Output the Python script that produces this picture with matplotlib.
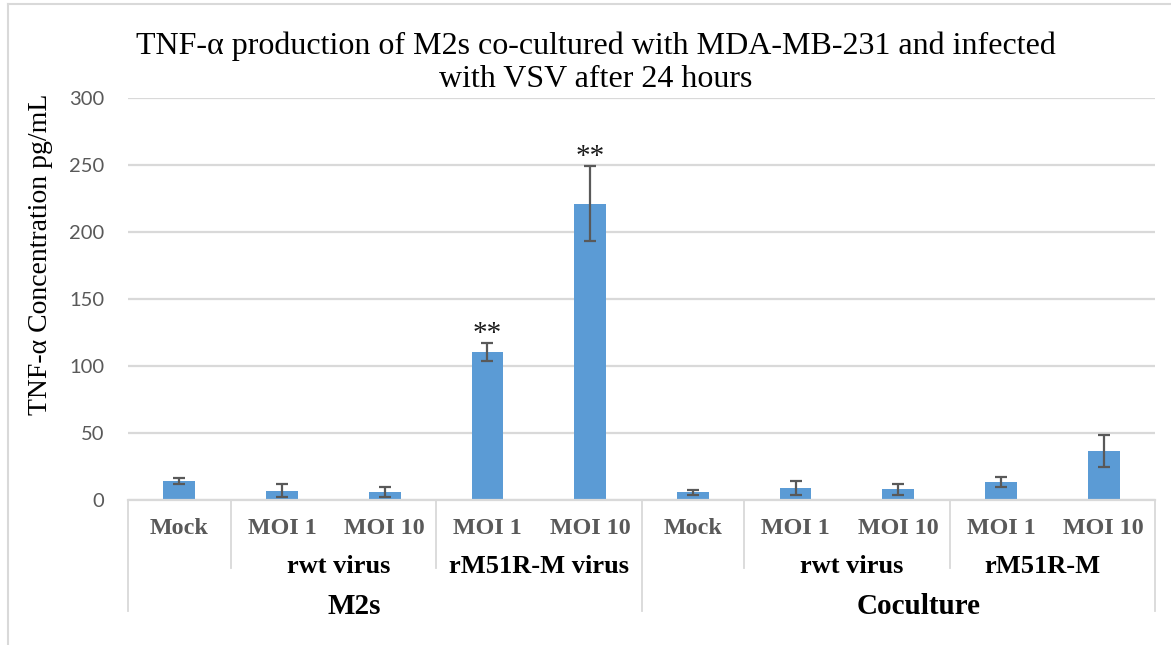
import matplotlib.pyplot as plt
from matplotlib.lines import Line2D
import numpy as np

# data
doses = ['Mock', 'MOI 1', 'MOI 10', 'MOI 1', 'MOI 10',
         'Mock', 'MOI 1', 'MOI 10', 'MOI 1', 'MOI 10']
tnf_mean = [14.2, 6.9, 6.0, 110.4, 221.0, 5.7, 9.0, 8.0, 13.2, 36.5]
tnf_err = [2.3, 4.7, 3.5, 6.9, 28.0, 2.0, 5.0, 4.3, 3.6, 12.0]
signif = ['', '', '', '**', '**', '', '', '', '', '']
virus_labels = ['rwt virus', 'rM51R-M virus', 'rwt virus', 'rM51R-M']
virus_pos = [1.55, 3.5, 6.55, 8.4]
group_labels = ['M2s', 'Coculture']
group_pos = [1.7, 7.2]

serif = 'Liberation Serif'
bar_color = '#5b9bd5'
grid_color = '#d9d9d9'
text_gray = '#595959'

fig = plt.figure(figsize=(11.71, 6.45), dpi=100)
ax = fig.add_axes([128 / 1171, 1 - 500 / 645, 1027 / 1171, 402 / 645])

x = np.arange(len(doses))
ax.bar(x, tnf_mean, width=0.31, color=bar_color, zorder=2)
ax.errorbar(x, tnf_mean, yerr=tnf_err, fmt='none', ecolor=text_gray,
            elinewidth=1.6, capsize=4.5, capthick=1.6, zorder=3)

# significance stars
for xi, m, e, s in zip(x, tnf_mean, tnf_err, signif):
    if s:
        ax.text(xi, m + e + 1.5, s, ha='center', va='baseline',
                fontsize=21, family=serif, color='#1a1a1a')

ax.set_xlim(-0.5, len(doses) - 0.5)
ax.set_ylim(0, 300)
ax.set_yticks(np.arange(0, 301, 50))
ax.yaxis.grid(True, color=grid_color, linewidth=1.6, zorder=0)
ax.set_axisbelow(True)
for side in ['top', 'right', 'left']:
    ax.spines[side].set_visible(False)
ax.spines['bottom'].set_color(grid_color)
ax.spines['bottom'].set_linewidth(1.6)
ax.tick_params(axis='y', length=0, pad=17, labelsize=14.5, labelcolor=text_gray)
for lbl in ax.get_yticklabels():
    lbl.set_family('Lato')
ax.set_xticks([])

ax.set_ylabel('TNF-\u03b1 Concentration pg/mL', family=serif, fontsize=20)
ax.yaxis.set_label_coords(-0.073, 0.61)

# multi-level category axis
tr = ax.get_xaxis_transform()
for xi, d in zip(x, doses):
    ax.text(xi, -0.072, d, transform=tr, ha='center', va='center',
            family=serif, fontweight='bold', fontsize=17.3, color=text_gray)
for p, t in zip(virus_pos, virus_labels):
    ax.text(p, -0.165, t, transform=tr, ha='center', va='center',
            family=serif, fontweight='bold', fontsize=19, color='black')
for p, t in zip(group_pos, group_labels):
    ax.text(p, -0.265, t, transform=tr, ha='center', va='center',
            family=serif, fontweight='bold', fontsize=21, color='black')

sep_short = [0.5, 2.5, 5.5, 7.5]
sep_long = [-0.5, 4.5, 9.5]
for s in sep_short:
    ax.add_line(Line2D([s, s], [0, -0.17], transform=tr, color=grid_color,
                       linewidth=1.3, clip_on=False))
for s in sep_long:
    ax.add_line(Line2D([s, s], [0, -0.276], transform=tr, color=grid_color,
                       linewidth=1.3, clip_on=False))

# title
fig.text(596 / 1171, 1 - 63 / 645,
         'TNF-\u03b1 production of M2s co-cultured with MDA-MB-231 and infected\nwith VSV after 24 hours',
         ha='center', va='center', family=serif, fontsize=23, linespacing=1.2)

# chart border
fig.add_artist(Line2D([8 / 1171, 8 / 1171], [0, 1 - 4 / 645], color=grid_color,
                      linewidth=1.5, transform=fig.transFigure))
fig.add_artist(Line2D([8 / 1171, 1], [1 - 4 / 645, 1 - 4 / 645], color=grid_color,
                      linewidth=1.5, transform=fig.transFigure))

fig.savefig('out.png', dpi=100)
